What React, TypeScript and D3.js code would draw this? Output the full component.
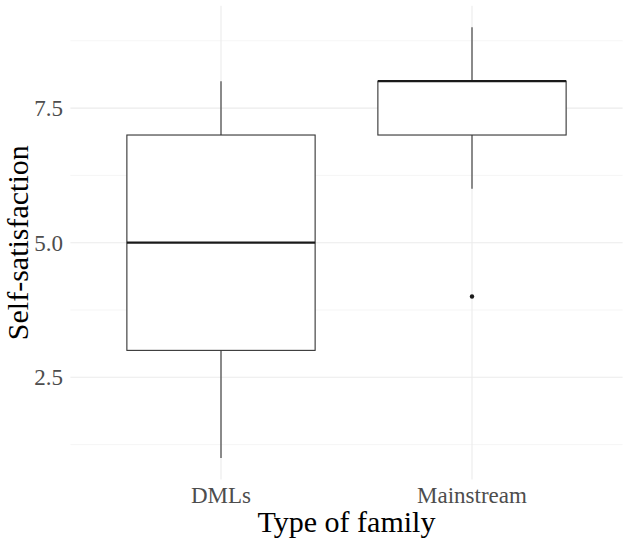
import * as d3 from "d3";
import {useEffect, useRef} from "react";

const categories = ["DMLs", "Mainstream"];
const whiskerLow = [1, 6];
const q1 = [3, 7];
const medians = [5, 8];
const q3 = [7, 8];
const whiskerHigh = [8, 9];
const outliers = [[], [4]];
const yTicks = [2.5, 5.0, 7.5];
const yMinor = [1.25, 3.75, 6.25, 8.75];

const W = 633;
const H = 546;
const FONT = "'Liberation Serif', 'Times New Roman', serif";

const App = () => {
    const ref = useRef(null);

    useEffect(() => {
        const svg = d3.select(ref.current);
        svg.selectAll("*").remove();

        // panel extents
        const left = 70.4, right = 622.6, top = 5.8, bottom = 479.6;

        const x = d3.scalePoint()
            .domain(categories)
            .range([left, right])
            .padding(0.6);
        const step = x.step();
        const y = d3.scaleLinear().domain([0.6, 9.4]).range([bottom, top]);

        const g = svg.append("g");

        // minor grid
        g.selectAll(".minor")
            .data(yMinor)
            .enter()
            .append("line")
            .attr("x1", left).attr("x2", right)
            .attr("y1", d => y(d)).attr("y2", d => y(d))
            .attr("stroke", "#f2f2f2")
            .attr("stroke-width", 0.8);

        // major grid
        g.selectAll(".major")
            .data(yTicks)
            .enter()
            .append("line")
            .attr("x1", left).attr("x2", right)
            .attr("y1", d => y(d)).attr("y2", d => y(d))
            .attr("stroke", "#ebebeb")
            .attr("stroke-width", 1.1);

        g.selectAll(".xgrid")
            .data(categories)
            .enter()
            .append("line")
            .attr("x1", d => x(d)).attr("x2", d => x(d))
            .attr("y1", top).attr("y2", bottom)
            .attr("stroke", "#ebebeb")
            .attr("stroke-width", 1.1);

        const boxW = step * 0.75;
        const idx = categories.map((c, i) => i);

        // whiskers
        g.selectAll(".wlo")
            .data(idx)
            .enter()
            .append("line")
            .attr("x1", i => x(categories[i])).attr("x2", i => x(categories[i]))
            .attr("y1", i => y(whiskerLow[i])).attr("y2", i => y(q1[i]))
            .attr("stroke", "#333333")
            .attr("stroke-width", 1.1);
        g.selectAll(".whi")
            .data(idx)
            .enter()
            .append("line")
            .attr("x1", i => x(categories[i])).attr("x2", i => x(categories[i]))
            .attr("y1", i => y(whiskerHigh[i])).attr("y2", i => y(q3[i]))
            .attr("stroke", "#333333")
            .attr("stroke-width", 1.1);

        // boxes
        g.selectAll(".box")
            .data(idx)
            .enter()
            .append("rect")
            .attr("x", i => x(categories[i]) - boxW / 2)
            .attr("width", boxW)
            .attr("y", i => y(q3[i]))
            .attr("height", i => y(q1[i]) - y(q3[i]))
            .attr("fill", "white")
            .attr("stroke", "#333333")
            .attr("stroke-width", 1.1);

        // medians
        g.selectAll(".med")
            .data(idx)
            .enter()
            .append("line")
            .attr("x1", i => x(categories[i]) - boxW / 2)
            .attr("x2", i => x(categories[i]) + boxW / 2)
            .attr("y1", i => y(medians[i])).attr("y2", i => y(medians[i]))
            .attr("stroke", "#1a1a1a")
            .attr("stroke-width", 2.2);

        // outliers
        const pts = [];
        outliers.forEach((arr, i) => arr.forEach(v => pts.push({c: categories[i], v})));
        g.selectAll(".out")
            .data(pts)
            .enter()
            .append("circle")
            .attr("cx", d => x(d.c))
            .attr("cy", d => y(d.v))
            .attr("r", 2.2)
            .attr("fill", "#1a1a1a");

        // y tick labels
        g.selectAll(".ylab")
            .data(yTicks)
            .enter()
            .append("text")
            .attr("x", 63)
            .attr("y", d => y(d))
            .attr("dy", "0.35em")
            .attr("text-anchor", "end")
            .attr("font-family", FONT)
            .attr("font-size", 23)
            .attr("fill", "#4d4d4d")
            .text(d => d3.format(".1f")(d));

        // x tick labels
        g.selectAll(".xlab")
            .data(categories)
            .enter()
            .append("text")
            .attr("x", d => x(d))
            .attr("y", 503)
            .attr("text-anchor", "middle")
            .attr("font-family", FONT)
            .attr("font-size", 23)
            .attr("fill", "#4d4d4d")
            .text(d => d);

        // axis titles
        svg.append("text")
            .attr("x", (left + right) / 2)
            .attr("y", 532)
            .attr("text-anchor", "middle")
            .attr("font-family", FONT)
            .attr("font-size", 30)
            .attr("fill", "black")
            .text("Type of family");

        svg.append("text")
            .attr("transform", "translate(28," + y(5) + ") rotate(-90)")
            .attr("text-anchor", "middle")
            .attr("font-family", FONT)
            .attr("font-size", 30)
            .attr("fill", "black")
            .text("Self-satisfaction");
    }, []);

    return (
        <svg
            ref={ref}
            width={W}
            height={H}
            style={{position: "absolute", left: 0, top: 0, background: "white"}}>
        </svg>
    );
};

export default App;
